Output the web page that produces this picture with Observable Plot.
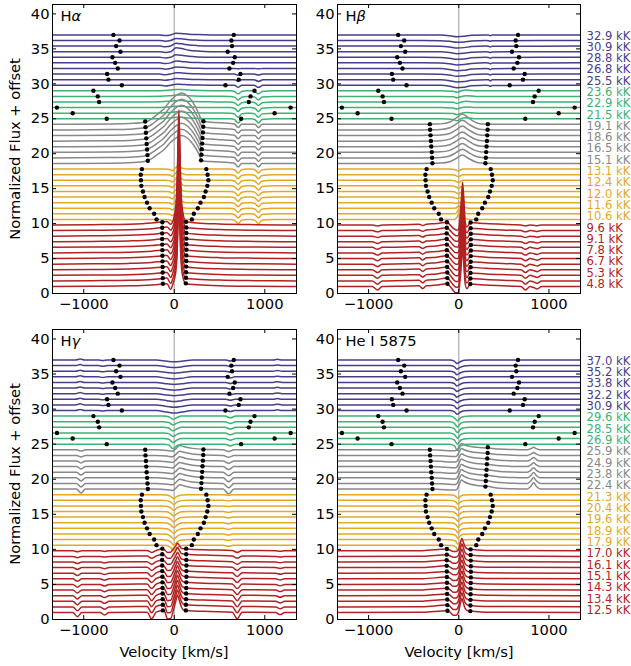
<!DOCTYPE html>
<html><head><meta charset="utf-8">
<script src="https://cdn.jsdelivr.net/npm/d3@7"></script>
<script src="https://cdn.jsdelivr.net/npm/@observablehq/plot@0.6"></script>
<style>
body{margin:0;background:#fff;font-family:"DejaVu Sans",sans-serif;}
#root{position:relative;width:631px;height:666px;overflow:hidden;background:#fff;}
.panel{position:absolute;}
.lab{position:absolute;font-size:14.7px;color:#000;white-space:nowrap;font-family:"DejaVu Sans";}
</style></head><body><div id="root"></div>
<script>
// ---------- shared ----------
const xDomain = [-1345, 1350];
const yDomain = [0, 41.35];
const xTicks = [-1000, 0, 1000];
const yTicks = [0, 5, 10, 15, 20, 25, 30, 35, 40];
const offsetStep = 0.8;
const groupColors = ["#b22222", "#e5a823", "#888888", "#3cb371", "#483d8b"]; // red, orange, gray, green, purple
const labelGroupSizes = [6, 5, 4, 3, 5];
const hLabels = ["4.8","5.3","6.7","7.8","9.1","9.6","10.6","11.6","12.0","12.4","13.1","15.1","16.5","18.6","19.1","21.5","22.9","23.6","25.5","26.8","28.8","30.9","32.9"];
const heLabels = ["12.5","13.4","14.3","15.1","16.1","17.0","17.9","18.9","19.6","20.4","21.3","22.4","23.8","24.9","25.9","26.9","28.5","29.6","30.9","32.2","33.8","35.2","37.0"];
const dotLeftV = [-126,-127,-128,-129,-130,-131,-132,-133,-134,-134,-133,-132,
 -196,-222,-272,-301,-328,-346,-364,-368,-370,-357,
 -292,-296,-300,-305,-309,-313,-318,-321,
 -746,-1122,-1296,-830,-845,-893,
 -579,-727,-742,-624,-653,-683,-594,-642,-605,-672];
const dotRightV = [128,129,130,131,132,133,134,134,134,133,132,131,
 194,216,260,290,327,346,365,377,368,354,
 296,300,304,308,312,316,320,322,
 738,1108,1285,823,842,886,
 565,712,731,609,650,668,590,638,631,657];

// ---------- H alpha ----------
const haRedV = [-1350,-900,-500,-250,-125,-80,-40,-14,6,21,31,41,51,61,71,81,96,130,250,500,900,1350];
const haRedRows = [
 [0,0.04,0.1,0.22,0.35,0.4,-0.4,0.4,1.3,2.6,4.6,9.0,13.0,9.0,4.6,2.6,1.3,0.35,0.25,0.12,0.04,0],
 [0,0.04,0.1,0.22,0.36,0.4,-0.35,0.4,1.3,2.7,4.8,9.2,13.3,9.2,4.8,2.7,1.3,0.36,0.25,0.12,0.04,0],
 [0,0.04,0.1,0.23,0.37,0.42,-0.3,0.45,1.35,2.7,4.9,9.4,13.6,9.4,4.9,2.7,1.4,0.37,0.26,0.12,0.04,0],
 [0,0.04,0.1,0.24,0.38,0.42,-0.25,0.45,1.4,2.8,5.0,9.7,14.0,9.7,5.0,2.8,1.4,0.38,0.26,0.13,0.04,0],
 [0,0.05,0.11,0.24,0.39,0.44,-0.2,0.5,1.4,2.9,5.1,9.9,14.3,9.9,5.1,2.9,1.4,0.39,0.27,0.13,0.04,0],
 [0,0.05,0.11,0.25,0.4,0.45,-0.15,0.5,1.45,2.9,5.2,10.1,14.6,10.1,5.2,2.9,1.5,0.4,0.27,0.13,0.05,0],
 [0,0.05,0.11,0.25,0.41,0.46,-0.1,0.5,1.5,3.0,5.4,10.4,15.0,10.4,5.4,3.0,1.5,0.41,0.28,0.14,0.05,0],
 [0,0.05,0.12,0.26,0.42,0.47,-0.05,0.55,1.5,3.1,5.5,10.6,15.3,10.6,5.5,3.1,1.55,0.42,0.28,0.14,0.05,0],
 [0,0.05,0.12,0.26,0.43,0.48,0,0.55,1.55,3.1,5.6,10.8,15.6,10.8,5.6,3.1,1.6,0.43,0.29,0.14,0.05,0],
 [0,0.05,0.12,0.27,0.44,0.49,0.05,0.6,1.6,3.2,5.7,11.0,15.9,11.0,5.7,3.2,1.6,0.44,0.29,0.15,0.05,0],
 [0,0.05,0.12,0.27,0.45,0.5,0.08,0.6,1.6,3.2,5.8,11.2,16.2,11.2,5.8,3.2,1.65,0.45,0.3,0.15,0.05,0],
 [0,0.05,0.12,0.28,0.46,0.5,0.1,0.6,1.65,3.3,5.9,11.4,16.5,11.4,5.9,3.3,1.7,0.46,0.3,0.15,0.05,0]];
const haOrangeV = [-1350,-400,-100,-50,-20,10,30,50,70,95,140,400,620,665,705,745,800,850,890,930,970,1100,1350];
const haOrangeRows = [
 [0,0,0,-0.05,-0.25,0.15,0.66,1.1,0.55,0.1,0,0,0,-0.1,-0.6,-0.1,0,0,-0.1,-0.6,-0.1,0,0],
 [0,0,0,-0.05,-0.25,0.15,0.6,1.0,0.5,0.1,0,0,0,-0.1,-0.6,-0.1,0,0,-0.1,-0.6,-0.1,0,0],
 [0,0,0,-0.05,-0.25,0.15,0.6,1.0,0.5,0.1,0,0,0,-0.1,-0.6,-0.1,0,0,-0.1,-0.6,-0.1,0,0],
 [0,0,0,-0.05,-0.25,0.15,0.54,0.9,0.45,0.1,0,0,0,-0.1,-0.6,-0.1,0,0,-0.1,-0.6,-0.1,0,0],
 [0,0,0,-0.05,-0.25,0.15,0.54,0.9,0.45,0.1,0,0,0,-0.1,-0.6,-0.1,0,0,-0.1,-0.6,-0.1,0,0],
 [0,0,0,-0.05,-0.25,0.15,0.48,0.8,0.4,0.1,0,0,0,-0.1,-0.6,-0.1,0,0,-0.1,-0.6,-0.1,0,0],
 [0,0,0,-0.05,-0.25,0.15,0.48,0.8,0.4,0.1,0,0,0,-0.1,-0.6,-0.1,0,0,-0.1,-0.6,-0.1,0,0],
 [0,0,0,-0.05,-0.25,0.15,0.42,0.7,0.35,0.1,0,0,0,-0.1,-0.58,-0.1,0,0,-0.1,-0.58,-0.1,0,0],
 [0,0,0,-0.05,-0.25,0.15,0.42,0.7,0.35,0.1,0,0,0,-0.1,-0.58,-0.1,0,0,-0.1,-0.58,-0.1,0,0],
 [0,0,0,-0.05,-0.25,0.15,0.36,0.6,0.3,0.1,0,0,0,-0.1,-0.55,-0.1,0,0,-0.1,-0.55,-0.1,0,0]];
const haGrayV = [-1350,-700,-450,-320,-250,-180,-115,-41,33,81,144,217,265,310,400,600,665,705,745,800,850,890,930,970,1100,1350];
const haGrayRows = [
 [0,0.04,0.13,0.31,0.71,1.34,1.96,3.03,3.78,4.0,3.65,2.58,1.51,0.4,0.27,0.13,0.04,-0.5,0,0,0,0,-0.5,0,0,0],
 [0,0.05,0.14,0.32,0.73,1.37,2.0,3.09,3.87,4.1,3.73,2.64,1.55,0.41,0.27,0.14,0.05,-0.5,0,0,0,0,-0.5,0,0,0],
 [0,0.05,0.14,0.32,0.74,1.38,2.02,3.13,3.91,4.15,3.77,2.67,1.56,0.41,0.28,0.14,0.05,-0.48,0,0,0,0,-0.48,0,0,0],
 [0,0.05,0.14,0.33,0.74,1.4,2.05,3.16,3.95,4.2,3.81,2.7,1.58,0.42,0.28,0.14,0.05,-0.48,0,0,0,0,-0.48,0,0,0],
 [0,0.05,0.14,0.33,0.76,1.43,2.1,3.25,4.06,4.3,3.92,2.77,1.62,0.43,0.29,0.14,0.05,-0.46,0,0,0,0,-0.46,0,0,0],
 [0,0.05,0.15,0.34,0.77,1.45,2.13,3.29,4.11,4.35,3.96,2.8,1.64,0.44,0.29,0.15,0.05,-0.46,0,0,0,0,-0.46,0,0,0],
 [0,0.05,0.15,0.34,0.78,1.47,2.15,3.33,4.16,4.4,4.01,2.84,1.66,0.44,0.29,0.15,0.05,-0.45,0,0,0,0,-0.45,0,0,0],
 [0,0.05,0.15,0.35,0.8,1.5,2.2,3.4,4.25,4.5,4.1,2.9,1.7,0.45,0.3,0.15,0.05,-0.45,0,0,0,0,-0.45,0,0,0]];
const haGreenV = [-1350,-300,-150,-50,30,80,150,300,620,665,705,745,800,850,890,930,970,1100,1350];
const haGreenRows = [
 [0,0,0.02,0.1,0.2,0.2,0.1,0.03,0,-0.1,-0.6,-0.1,0,0,-0.1,-0.6,-0.1,0,0],
 [0,0,0.02,0.1,0.2,0.2,0.1,0.03,0,-0.1,-0.6,-0.1,0,0,-0.1,-0.6,-0.1,0,0],
 [0,0,0.02,0.1,0.2,0.2,0.1,0.03,0,-0.1,-0.55,-0.1,0,0,-0.1,-0.55,-0.1,0,0],
 [0,0,0.02,0.1,0.2,0.2,0.1,0.03,0,-0.1,-0.5,-0.1,0,0,-0.1,-0.5,-0.1,0,0],
 [0,0,0.02,0.1,0.2,0.2,0.1,0.03,0,-0.1,-0.5,-0.1,0,0,-0.1,-0.5,-0.1,0,0],
 [0,0,0.02,0.1,0.2,0.2,0.1,0.03,0,-0.1,-0.45,-0.1,0,0,-0.1,-0.45,-0.1,0,0]];
const haPurpleV = [-1350,-300,-160,-100,-40,20,80,160,260,400,620,665,705,745,880,930,980,1350];
const haPurpleRows = [
 [0,0,0,-0.1,0,0.15,0.12,0.06,0.02,0,0,0,-0.3,0,0,-0.3,0,0],
 [0,0,0,-0.1,0,0.15,0.12,0.06,0.02,0,0,0,-0.25,0,0,-0.25,0,0],
 [0,0,0,-0.1,0,0.2,0.16,0.08,0.03,0,0,0,-0.15,0,0,-0.15,0,0],
 [0,0,0,-0.1,0,0.2,0.16,0.08,0.03,0,0,0,-0.05,0,0,-0.05,0,0],
 [0,0,0,-0.1,0,0.25,0.2,0.1,0.04,0,0,0,0,0,0,0,0,0],
 [0,0,0,-0.1,0,0.35,0.28,0.14,0.05,0,0,0,0,0,0,0,0,0],
 [0,0,0,-0.1,0,0.55,0.44,0.22,0.08,0,0,0,0,0,0,0,0,0],
 [0,0,0,-0.1,0,0.4,0.32,0.16,0.06,0,0,0,0,0,0,0,0,0],
 [0,0,0,-0.1,0,0.3,0.24,0.12,0.05,0,0,0,0,0,0,0,0,0],
 [0,0,0,-0.1,0,0.25,0.2,0.1,0.04,0,0,0,0,0,0,0,0,0]];
const haRiseL = [0.4, 0, 0.4, 0, 0];
const haRiseR = [0.45, 0, 0.45, 0, 0];

// ---------- H beta ----------
const hbRedV = [-1350,-960,-900,-850,-600,-440,-400,-360,-250,-130,-95,-60,-30,-5,15,30,42,55,70,90,128,300,600,690,740,790,830,870,920,1350];
const hbRedRows = [
 [0,0,-0.5,0,0.05,0.1,-0.3,0.1,0.2,0.4,0,-0.6,-0.9,-0.9,1.0,3.5,5.5,3.5,0.5,-0.3,0.35,0.2,0.05,0,-0.5,0,-0.15,-0.35,0,0],
 [0,0,-0.47,0,0.05,0.1,-0.28,0.1,0.2,0.4,0,-0.6,-0.9,-0.9,1.0,3.55,5.55,3.55,0.5,-0.3,0.35,0.2,0.05,0,-0.47,0,-0.14,-0.33,0,0],
 [0,0,-0.43,0,0.05,0.1,-0.26,0.1,0.2,0.4,0,-0.59,-0.88,-0.88,1.0,3.6,5.6,3.6,0.5,-0.3,0.35,0.2,0.05,0,-0.43,0,-0.13,-0.3,0,0],
 [0,0,-0.4,0,0.05,0.1,-0.24,0.1,0.2,0.4,0,-0.58,-0.86,-0.86,1.0,3.6,5.65,3.6,0.5,-0.3,0.35,0.2,0.05,0,-0.4,0,-0.12,-0.28,0,0],
 [0,0,-0.37,0,0.05,0.1,-0.22,0.1,0.2,0.4,0,-0.56,-0.84,-0.84,1.03,3.65,5.7,3.65,0.51,-0.3,0.35,0.2,0.05,0,-0.37,0,-0.11,-0.26,0,0],
 [0,0,-0.33,0,0.05,0.1,-0.2,0.1,0.2,0.4,0,-0.55,-0.82,-0.82,1.03,3.7,5.75,3.7,0.52,-0.3,0.35,0.2,0.05,0,-0.33,0,-0.1,-0.23,0,0],
 [0,0,-0.3,0,0.05,0.1,-0.18,0.1,0.2,0.4,0,-0.54,-0.8,-0.8,1.04,3.7,5.8,3.7,0.52,-0.3,0.35,0.2,0.05,0,-0.3,0,-0.09,-0.21,0,0],
 [0,0,-0.27,0,0.05,0.1,-0.16,0.1,0.2,0.4,0,-0.52,-0.78,-0.78,1.05,3.75,5.85,3.75,0.53,-0.3,0.35,0.2,0.05,0,-0.27,0,-0.08,-0.19,0,0],
 [0,0,-0.23,0,0.05,0.1,-0.14,0.1,0.2,0.4,0,-0.51,-0.76,-0.76,1.06,3.8,5.9,3.8,0.53,-0.3,0.35,0.2,0.05,0,-0.23,0,-0.07,-0.16,0,0],
 [0,0,-0.2,0,0.05,0.1,-0.12,0.1,0.2,0.4,0,-0.5,-0.74,-0.74,1.07,3.8,5.95,3.8,0.54,-0.3,0.35,0.2,0.05,0,-0.2,0,-0.06,-0.14,0,0],
 [0,0,-0.17,0,0.05,0.1,-0.1,0.1,0.2,0.4,0,-0.48,-0.72,-0.72,1.08,3.84,6.0,3.84,0.54,-0.3,0.35,0.2,0.05,0,-0.17,0,-0.05,-0.12,0,0],
 [0,0,-0.13,0,0.05,0.1,-0.08,0.1,0.2,0.4,0,-0.47,-0.7,-0.7,1.1,3.9,6.1,3.9,0.55,-0.3,0.35,0.2,0.05,0,-0.13,0,-0.04,-0.09,0,0]];
const hbOrangeV = [-1350,-400,-100,-50,-20,0,20,45,70,110,400,1350];
const hbOrangeRows = [
 [0,0,0,0,0.3,0.9,0.2,1.1,0.2,0,0,0],
 [0,0,0,0,0.2,0.7,0.1,0.9,0.15,0,0,0],
 [0,0,0,0,0.1,0.4,0,0.6,0.1,0,0,0],
 [0,0,0,-0.05,-0.1,0.1,-0.1,0.3,0.05,0,0,0],
 [0,0,0,-0.05,-0.2,-0.15,-0.1,0.1,0,0,0,0],
 [0,0,0,-0.05,-0.25,-0.35,-0.15,0,0,0,0,0],
 [0,0,0,-0.05,-0.25,-0.33,-0.15,0,0,0,0,0],
 [0,0,0,-0.05,-0.25,-0.32,-0.15,0,0,0,0,0],
 [0,0,0,-0.05,-0.22,-0.3,-0.13,0,0,0,0,0],
 [0,0,0,-0.05,-0.2,-0.28,-0.12,0,0,0,0,0]];
const hbGrayV = [-1350,-500,-320,-200,-100,-30,40,110,180,250,320,500,1350];
const hbGrayRows = [
 [0,0,0.03,0.07,0.26,0.72,1.2,0.72,0.26,0.06,0.03,0,0],
 [0,0,0.03,0.07,0.28,0.75,1.25,0.75,0.28,0.06,0.03,0,0],
 [0,0,0.03,0.07,0.28,0.75,1.25,0.75,0.28,0.06,0.03,0,0],
 [0,0,0.03,0.07,0.29,0.78,1.3,0.78,0.29,0.06,0.03,0,0],
 [0,0,0.03,0.07,0.29,0.78,1.3,0.78,0.29,0.06,0.03,0,0],
 [0,0,0.03,0.07,0.3,0.81,1.35,0.81,0.3,0.06,0.03,0,0],
 [0,0,0.03,0.07,0.31,0.84,1.4,0.84,0.31,0.06,0.03,0,0],
 [0,0,0.03,0.07,0.33,0.9,1.5,0.9,0.33,0.06,0.03,0,0]];
const hbGreenV = [-1350,-200,-60,-20,30,80,200,1350];
const hbGreenRows = [
 [0,0,-0.1,-0.3,0.05,0.15,0,0],
 [0,0,-0.05,-0.2,0,0.1,0,0],
 [0,0,-0.05,-0.2,0,0.1,0,0],
 [0,0,-0.05,-0.2,0,0.1,0,0],
 [0,0,-0.05,-0.2,0,0.1,0,0],
 [0,0,-0.05,-0.2,0,0.1,0,0]];
const hbPurpleV = [-1350,-400,-200,-100,-20,60,140,300,330,350,370,1350];
const hbPurpleRows = [
 [0,0,-0.02,-0.15,-0.35,-0.28,-0.08,0,-0.03,-0.15,-0.03,0],
 [0,0,-0.02,-0.15,-0.35,-0.28,-0.08,0,-0.03,-0.15,-0.03,0],
 [0,0,-0.02,-0.15,-0.32,-0.26,-0.08,0,-0.03,-0.15,-0.03,0],
 [0,0,-0.02,-0.15,-0.32,-0.26,-0.08,0,-0.03,-0.15,-0.03,0],
 [0,0,-0.02,-0.14,-0.3,-0.24,-0.08,0,-0.03,-0.14,-0.03,0],
 [0,0,-0.02,-0.14,-0.3,-0.24,-0.08,0,-0.03,-0.14,-0.03,0],
 [0,0,-0.02,-0.13,-0.28,-0.22,-0.07,0,-0.03,-0.13,-0.03,0],
 [0,0,-0.02,-0.13,-0.28,-0.22,-0.07,0,-0.03,-0.13,-0.03,0],
 [0,0,-0.02,-0.12,-0.25,-0.2,-0.06,0,-0.03,-0.12,-0.03,0],
 [0,0,-0.02,-0.12,-0.25,-0.2,-0.06,0,-0.03,-0.12,-0.03,0]];
const hbRiseL = [0.4, 0, 0.03, 0, 0];
const hbRiseR = [0.35, 0, 0.03, 0, 0];

// ---------- H gamma ----------
const hgRedV = [-1350,-1120,-1070,-1020,-820,-770,-720,-400,-300,-250,-200,-130,-105,-75,-40,-10,15,35,55,80,105,130,400,640,695,750,1120,1170,1220,1350];
const hgRedRows = [
 [0,0,-0.6,0,0,-0.35,0,0.05,0.05,-0.9,0.05,0.3,0.1,-0.9,-0.85,0.3,1.5,2.5,1.75,0.75,0.35,0.3,0.15,0.05,-0.9,0.05,0,-0.3,0,0],
 [0,0,-0.56,0,0,-0.33,0,0.05,0.05,-0.84,0.05,0.3,0.1,-0.84,-0.79,0.3,1.44,2.4,1.68,0.72,0.35,0.3,0.15,0.05,-0.84,0.05,0,-0.28,0,0],
 [0,0,-0.52,0,0,-0.3,0,0.05,0.05,-0.77,0.05,0.3,0.1,-0.77,-0.73,0.3,1.38,2.3,1.61,0.69,0.35,0.3,0.15,0.05,-0.77,0.05,0,-0.26,0,0],
 [0,0,-0.47,0,0,-0.28,0,0.05,0.05,-0.71,0.05,0.3,0.1,-0.71,-0.67,0.3,1.32,2.2,1.54,0.66,0.35,0.3,0.15,0.05,-0.71,0.05,0,-0.24,0,0],
 [0,0,-0.43,0,0,-0.25,0,0.05,0.05,-0.65,0.05,0.3,0.1,-0.65,-0.61,0.3,1.26,2.1,1.47,0.63,0.35,0.3,0.15,0.05,-0.65,0.05,0,-0.22,0,0],
 [0,0,-0.39,0,0,-0.23,0,0.05,0.05,-0.59,0.05,0.3,0.1,-0.59,-0.55,0.3,1.2,2.0,1.4,0.6,0.35,0.3,0.15,0.05,-0.59,0.05,0,-0.2,0,0],
 [0,0,-0.35,0,0,-0.2,0,0.05,0.05,-0.52,0.05,0.3,0.1,-0.52,-0.49,0.3,1.11,1.85,1.3,0.56,0.35,0.3,0.15,0.05,-0.52,0.05,0,-0.17,0,0],
 [0,0,-0.31,0,0,-0.18,0,0.05,0.05,-0.46,0.05,0.3,0.1,-0.46,-0.43,0.3,1.02,1.7,1.19,0.51,0.35,0.3,0.15,0.05,-0.46,0.05,0,-0.15,0,0],
 [0,0,-0.26,0,0,-0.15,0,0.05,0.05,-0.4,0.05,0.3,0.1,-0.4,-0.37,0.3,0.93,1.55,1.09,0.47,0.35,0.3,0.15,0.05,-0.4,0.05,0,-0.13,0,0],
 [0,0,-0.22,0,0,-0.13,0,0.05,0.05,-0.33,0.05,0.3,0.1,-0.33,-0.31,0.3,0.84,1.4,0.98,0.42,0.35,0.3,0.15,0.05,-0.33,0.05,0,-0.11,0,0],
 [0,0,-0.18,0,0,-0.1,0,0.05,0.05,-0.27,0.05,0.3,0.1,-0.27,-0.26,0.3,0.75,1.25,0.88,0.38,0.35,0.3,0.15,0.05,-0.27,0.05,0,-0.09,0,0],
 [0,0,-0.15,0,0,-0.09,0,0.05,0.05,-0.23,0.05,0.25,0.1,-0.23,-0.21,0.3,0.66,1.1,0.77,0.33,0.3,0.25,0.12,0.03,-0.23,0.03,0,-0.08,0,0]];
const hgOrangeV = [-1350,-160,-80,-40,-5,30,80,160,540,600,650,1350];
const hgOrangeRows = [
 [0,0,-0.05,-0.35,-0.8,-0.35,-0.05,0,0,-0.15,0,0],
 [0,0,-0.05,-0.35,-0.78,-0.35,-0.05,0,0,-0.15,0,0],
 [0,0,-0.05,-0.35,-0.75,-0.35,-0.05,0,0,-0.15,0,0],
 [0,0,-0.05,-0.33,-0.72,-0.33,-0.05,0,0,-0.15,0,0],
 [0,0,-0.05,-0.32,-0.7,-0.32,-0.05,0,0,-0.15,0,0],
 [0,0,-0.05,-0.31,-0.68,-0.31,-0.05,0,0,-0.12,0,0],
 [0,0,-0.05,-0.3,-0.65,-0.3,-0.05,0,0,-0.12,0,0],
 [0,0,-0.05,-0.28,-0.62,-0.28,-0.05,0,0,-0.1,0,0],
 [0,0,-0.05,-0.27,-0.6,-0.27,-0.05,0,0,-0.1,0,0],
 [0,0,-0.05,-0.25,-0.55,-0.25,-0.05,0,0,-0.1,0,0]];
const hgGrayV = [-1350,-1080,-1030,-980,-200,-80,-20,10,60,120,200,350,540,600,660,1350];
const hgGrayRows = [
 [0,0,-0.55,0,0,-0.1,-0.2,0.05,0.6,0.4,0.2,0.05,0,-0.7,0,0],
 [0,0,-0.5,0,0,-0.1,-0.2,0.05,0.6,0.4,0.2,0.05,0,-0.63,0,0],
 [0,0,-0.44,0,0,-0.1,-0.2,0.05,0.6,0.4,0.2,0.05,0,-0.56,0,0],
 [0,0,-0.39,0,0,-0.1,-0.2,0.05,0.6,0.4,0.2,0.05,0,-0.49,0,0],
 [0,0,-0.33,0,0,-0.1,-0.2,0.05,0.6,0.4,0.2,0.05,0,-0.42,0,0],
 [0,0,-0.28,0,0,-0.1,-0.2,0.05,0.6,0.4,0.2,0.05,0,-0.35,0,0],
 [0,0,-0.22,0,0,-0.1,-0.2,0.05,0.6,0.4,0.2,0.05,0,-0.28,0,0],
 [0,0,-0.19,0,0,-0.1,-0.2,0.05,0.6,0.4,0.2,0.05,0,-0.25,0,0]];
const hgGreenV = [-1350,-120,-60,-15,30,80,200,560,620,680,1350];
const hgGreenRows = [
 [0,0,-0.1,-0.65,-0.2,0,0,0,-0.25,0,0],
 [0,0,-0.1,-0.55,-0.2,0,0,0,-0.25,0,0],
 [0,0,-0.1,-0.5,-0.2,0,0,0,-0.25,0,0],
 [0,0,-0.1,-0.5,-0.2,0,0,0,-0.25,0,0],
 [0,0,-0.1,-0.45,-0.2,0,0,0,-0.25,0,0],
 [0,0,-0.1,-0.45,-0.2,0,0,0,-0.25,0,0]];
const hgPurpleV = [-1350,-1090,-1040,-990,-840,-790,-740,-200,-80,0,80,200,570,620,670,1090,1140,1190,1350];
const hgPurpleRows = [
 [0,0,0.15,0,0,-0.08,0,0,-0.22,-0.35,-0.22,0,0,-0.15,0,0,0.1,0,0],
 [0,0,0.15,0,0,-0.08,0,0,-0.22,-0.33,-0.22,0,0,-0.15,0,0,0.1,0,0],
 [0,0,0.15,0,0,-0.08,0,0,-0.2,-0.32,-0.2,0,0,-0.15,0,0,0.1,0,0],
 [0,0,0.15,0,0,-0.08,0,0,-0.2,-0.3,-0.2,0,0,-0.15,0,0,0.1,0,0],
 [0,0,0.15,0,0,-0.08,0,0,-0.2,-0.3,-0.2,0,0,-0.15,0,0,0.1,0,0],
 [0,0,0.15,0,0,-0.08,0,0,-0.2,-0.3,-0.2,0,0,-0.15,0,0,0.1,0,0],
 [0,0,0.15,0,0,-0.08,0,0,-0.2,-0.3,-0.2,0,0,-0.15,0,0,0.1,0,0],
 [0,0,0.15,0,0,-0.08,0,0,-0.18,-0.28,-0.18,0,0,-0.15,0,0,0.1,0,0],
 [0,0,0.15,0,0,-0.08,0,0,-0.18,-0.28,-0.18,0,0,-0.15,0,0,0.1,0,0],
 [0,0,0.15,0,0,-0.08,0,0,-0.18,-0.26,-0.18,0,0,-0.15,0,0,0.1,0,0]];
const hgRiseL = [0.3, 0, 0, 0, 0];
const hgRiseR = [0.3, 0, 0.05, 0, 0];

// ---------- He I 5875 ----------
const heRedV = [-1350,-400,-133,-100,-60,-30,0,20,35,50,70,100,126,300,1350];
const heRedRows = [
 [0,0.02,0.25,0.1,-0.4,-0.4,0.2,1.4,2.0,1.4,0.6,0.25,0.2,0.05,0],
 [0,0.02,0.25,0.1,-0.37,-0.37,0.2,1.4,2.0,1.4,0.6,0.25,0.2,0.05,0],
 [0,0.02,0.25,0.1,-0.35,-0.35,0.2,1.4,2.0,1.4,0.6,0.25,0.2,0.05,0],
 [0,0.02,0.25,0.1,-0.32,-0.32,0.2,1.37,1.95,1.37,0.59,0.25,0.2,0.05,0],
 [0,0.02,0.25,0.1,-0.3,-0.3,0.2,1.37,1.95,1.37,0.59,0.25,0.2,0.05,0],
 [0,0.02,0.25,0.1,-0.27,-0.27,0.2,1.33,1.9,1.33,0.57,0.25,0.2,0.05,0],
 [0,0.02,0.25,0.1,-0.25,-0.25,0.2,1.33,1.9,1.33,0.57,0.25,0.2,0.05,0],
 [0,0.02,0.25,0.1,-0.22,-0.22,0.2,1.33,1.9,1.33,0.57,0.25,0.2,0.05,0],
 [0,0.02,0.25,0.1,-0.2,-0.2,0.2,1.3,1.85,1.3,0.56,0.25,0.2,0.05,0],
 [0,0.02,0.25,0.1,-0.17,-0.17,0.2,1.3,1.85,1.3,0.56,0.25,0.2,0.05,0],
 [0,0.02,0.25,0.1,-0.13,-0.13,0.2,1.26,1.8,1.26,0.54,0.25,0.2,0.05,0],
 [0,0.02,0.25,0.1,-0.1,-0.1,0.2,1.26,1.8,1.26,0.54,0.25,0.2,0.05,0]];
const heOrangeV = [-1350,-150,-70,-30,-10,15,50,120,1350];
const heOrangeRows = [
 [0,0,-0.05,-0.3,-0.7,-0.3,-0.05,0,0],
 [0,0,-0.05,-0.3,-0.68,-0.3,-0.05,0,0],
 [0,0,-0.05,-0.3,-0.66,-0.3,-0.05,0,0],
 [0,0,-0.05,-0.3,-0.64,-0.3,-0.05,0,0],
 [0,0,-0.05,-0.3,-0.62,-0.3,-0.05,0,0],
 [0,0,-0.05,-0.3,-0.6,-0.3,-0.05,0,0],
 [0,0,-0.05,-0.3,-0.6,-0.3,-0.05,0,0],
 [0,0,-0.05,-0.28,-0.58,-0.28,-0.05,0,0],
 [0,0,-0.05,-0.27,-0.56,-0.27,-0.05,0,0],
 [0,0,-0.05,-0.27,-0.55,-0.27,-0.05,0,0]];
const heGrayV = [-1350,-320,-200,-80,-30,0,30,60,120,200,311,450,600,760,800,830,860,900,1350];
const heGrayRows = [
 [0,0,-0.05,-0.15,-0.15,0.52,1.3,1.04,0.72,0.52,0.39,0.12,0.03,0,0.41,0.9,0.41,0,0],
 [0,0,-0.05,-0.15,-0.15,0.5,1.25,1.0,0.69,0.5,0.38,0.12,0.03,0,0.38,0.85,0.38,0,0],
 [0,0,-0.05,-0.15,-0.15,0.48,1.2,0.96,0.66,0.48,0.36,0.12,0.03,0,0.34,0.75,0.34,0,0],
 [0,0,-0.05,-0.15,-0.15,0.46,1.15,0.92,0.63,0.46,0.35,0.12,0.03,0,0.29,0.65,0.29,0,0],
 [0,0,-0.05,-0.15,-0.15,0.44,1.1,0.88,0.61,0.44,0.33,0.12,0.03,0,0.25,0.55,0.25,0,0],
 [0,0,-0.05,-0.15,-0.15,0.42,1.05,0.84,0.58,0.42,0.32,0.12,0.03,0,0.23,0.5,0.23,0,0],
 [0,0,-0.05,-0.15,-0.15,0.4,1.0,0.8,0.55,0.4,0.3,0.12,0.03,0,0.18,0.4,0.18,0,0],
 [0,0,-0.05,-0.15,-0.12,0.36,0.9,0.72,0.5,0.36,0.27,0.1,0.03,0,0.16,0.35,0.16,0,0]];
const heGreenV = [-1350,-100,-50,-15,20,60,120,1350];
const heGreenRows = [
 [0,0,-0.2,-0.9,-0.25,-0.05,0,0],
 [0,0,-0.2,-0.8,-0.25,-0.05,0,0],
 [0,0,-0.2,-0.75,-0.25,-0.05,0,0],
 [0,0,-0.2,-0.75,-0.25,-0.05,0,0],
 [0,0,-0.2,-0.75,-0.25,-0.05,0,0],
 [0,0,-0.2,-0.7,-0.25,-0.05,0,0]];
const hePurpleV = [-1350,-100,-50,-20,15,60,120,1350];
const hePurpleRows = [
 [0,0,-0.15,-0.55,-0.25,-0.05,0,0],
 [0,0,-0.15,-0.55,-0.25,-0.05,0,0],
 [0,0,-0.15,-0.5,-0.25,-0.05,0,0],
 [0,0,-0.15,-0.5,-0.25,-0.05,0,0],
 [0,0,-0.15,-0.5,-0.25,-0.05,0,0],
 [0,0,-0.15,-0.5,-0.25,-0.05,0,0],
 [0,0,-0.15,-0.5,-0.25,-0.05,0,0],
 [0,0,-0.15,-0.5,-0.25,-0.05,0,0],
 [0,0,-0.15,-0.5,-0.25,-0.05,0,0],
 [0,0,-0.15,-0.5,-0.25,-0.05,0,0]];
const heRiseL = [0.25, 0, 0, 0, 0];
const heRiseR = [0.2, 0, 0.35, 0, 0];

// ---------- drawing ----------
const FONT = "DejaVu Sans";
const FS = 14.7;

function buildPanel(cfg) {
  const {groups, riseL, riseR, titleParts, labels, isLeft, isBottom, left, top} = cfg;
  const W = isLeft ? 300 : 331;
  const H = isBottom ? 341 : 325;
  const mL = isLeft ? 52 : 37, mR = isLeft ? 4 : 51, mT = 4, mB = isBottom ? 47 : 32;
  const fw = W - mL - mR, fh = H - mT - mB;

  let start = 0;
  const starts = groups.map(g => { const s = start; start += g.rows.length; return s; });
  const lineMarks = [];
  for (let gi = groups.length - 1; gi >= 0; gi--) {
    const g = groups[gi];
    const data = [];
    for (let r = g.rows.length - 1; r >= 0; r--) {
      const i = starts[gi] + r;
      const base = 1 + offsetStep * i;
      g.rows[r].forEach((dv, k) => data.push({v: g.V[k], y: base + dv, i}));
    }
    lineMarks.push(Plot.line(data, {x: "v", y: "y", z: "i", stroke: groupColors[gi], strokeWidth: 1.5, curve: "monotone-x", clip: true}));
  }
  const dots = [];
  groups.forEach((g, gi) => {
    for (let r = 0; r < g.rows.length; r++) {
      const i = starts[gi] + r;
      const base = 1 + offsetStep * i;
      dots.push({v: dotLeftV[i], y: base + riseL[gi]});
      dots.push({v: dotRightV[i], y: base + riseR[gi]});
    }
  });

  const marks = [
    Plot.ruleX([0], {stroke: "#bdbdbd", strokeWidth: 1.5}),
    ...lineMarks,
    Plot.dot(dots, {x: "v", y: "y", r: 2.2, fill: "black"}),
    Plot.frame({stroke: "black", strokeWidth: 1}),
    Plot.tickX(xTicks, {x: d => d, insetTop: fh - 4, stroke: "black"}),
    Plot.tickX(xTicks, {x: d => d, insetBottom: fh - 4, stroke: "black"}),
    Plot.tickY(yTicks, {y: d => d, insetRight: fw - 4, stroke: "black"}),
    Plot.tickY(yTicks, {y: d => d, insetLeft: fw - 4, stroke: "black"}),
    Plot.axisX(xTicks, {tickSize: 0, tickPadding: 5, tickFormat: d3.format("d"), label: null}),
    Plot.axisY(yTicks, {tickSize: 0, tickPadding: 3, label: null})
  ];
  let dx = 8;
  titleParts.forEach(p => {
    marks.push(Plot.text([p.t], {frameAnchor: "top-left", dx, dy: 11.5, textAnchor: "start", lineAnchor: "middle", fontSize: FS, fontStyle: p.italic ? "italic" : "normal"}));
    dx += p.w;
  });
  if (labels) {
    let k0 = 0;
    labelGroupSizes.forEach((n, gi) => {
      const sub = labels.slice(k0, k0 + n).map((t, j) => ({t: t + " kK", k: k0 + j}));
      marks.push(Plot.text(sub, {x: () => xDomain[1], y: d => 1.32 + 1.616 * d.k, text: "t", fill: groupColors[gi], dx: 6, textAnchor: "start", lineAnchor: "middle", fontSize: 11.6}));
      k0 += n;
    });
  }
  const svg = Plot.plot({
    width: W, height: H,
    marginLeft: mL, marginRight: mR, marginTop: mT, marginBottom: mB,
    x: {domain: xDomain},
    y: {domain: yDomain},
    style: {fontFamily: FONT, fontSize: FS + "px", background: "transparent", overflow: "visible", maxWidth: "none", color: "black"},
    marks
  });
  const div = document.createElement("div");
  div.className = "panel";
  div.style.left = left + "px";
  div.style.top = top + "px";
  div.appendChild(svg);
  document.getElementById("root").appendChild(div);
}

const haGroups = [
  {V: haRedV, rows: haRedRows}, {V: haOrangeV, rows: haOrangeRows}, {V: haGrayV, rows: haGrayRows},
  {V: haGreenV, rows: haGreenRows}, {V: haPurpleV, rows: haPurpleRows}];
const hbGroups = [
  {V: hbRedV, rows: hbRedRows}, {V: hbOrangeV, rows: hbOrangeRows}, {V: hbGrayV, rows: hbGrayRows},
  {V: hbGreenV, rows: hbGreenRows}, {V: hbPurpleV, rows: hbPurpleRows}];
const hgGroups = [
  {V: hgRedV, rows: hgRedRows}, {V: hgOrangeV, rows: hgOrangeRows}, {V: hgGrayV, rows: hgGrayRows},
  {V: hgGreenV, rows: hgGreenRows}, {V: hgPurpleV, rows: hgPurpleRows}];
const heGroups = [
  {V: heRedV, rows: heRedRows}, {V: heOrangeV, rows: heOrangeRows}, {V: heGrayV, rows: heGrayRows},
  {V: heGreenV, rows: heGreenRows}, {V: hePurpleV, rows: hePurpleRows}];

buildPanel({groups: haGroups, riseL: haRiseL, riseR: haRiseR, titleParts: [{t: "H", w: 11}, {t: "α", italic: true, w: 10}], labels: null, isLeft: true, isBottom: false, left: 0, top: 0});
buildPanel({groups: hbGroups, riseL: hbRiseL, riseR: hbRiseR, titleParts: [{t: "H", w: 11}, {t: "β", italic: true, w: 10}], labels: hLabels, isLeft: false, isBottom: false, left: 300, top: 0});
buildPanel({groups: hgGroups, riseL: hgRiseL, riseR: hgRiseR, titleParts: [{t: "H", w: 11}, {t: "γ", italic: true, w: 10}], labels: null, isLeft: true, isBottom: true, left: 0, top: 325});
buildPanel({groups: heGroups, riseL: heRiseL, riseR: heRiseR, titleParts: [{t: "He I 5875", w: 80}], labels: heLabels, isLeft: false, isBottom: true, left: 300, top: 325});

function addLabel(text, x, y, rotate) {
  const d = document.createElement("div");
  d.className = "lab";
  d.textContent = text;
  d.style.left = x + "px";
  d.style.top = y + "px";
  d.style.transform = "translate(-50%,-50%)" + (rotate ? " rotate(-90deg)" : "");
  document.getElementById("root").appendChild(d);
}
addLabel("Normalized Flux + offset", 14, 148.5, true);
addLabel("Normalized Flux + offset", 14, 474, true);
addLabel("Velocity [km/s]", 174, 651, false);
addLabel("Velocity [km/s]", 459, 651, false);
</script></body></html>
